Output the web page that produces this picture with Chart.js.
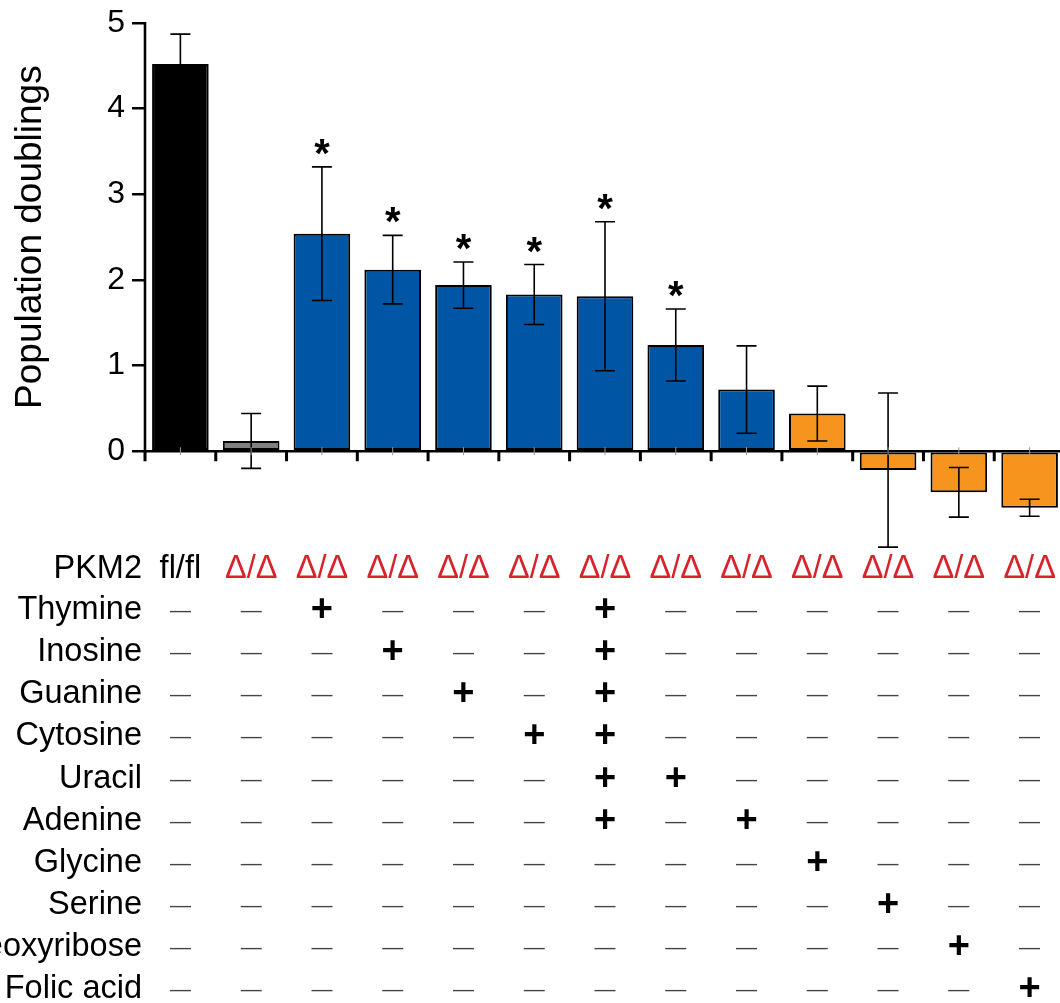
<!DOCTYPE html>
<html>
<head>
<meta charset="utf-8">
<script src="https://cdn.jsdelivr.net/npm/chart.js@4.4.1/dist/chart.umd.min.js"></script>
<style>
  html, body { margin: 0; padding: 0; overflow: hidden; background: #fff; }
  canvas { display: block; }
</style>
</head>
<body>
<canvas id="myChart" width="1070" height="1003"></canvas>
<script>
// genotype of each column (PKM2 row)
const genotypes = ['fl/fl', 'Δ/Δ', 'Δ/Δ', 'Δ/Δ', 'Δ/Δ', 'Δ/Δ', 'Δ/Δ', 'Δ/Δ', 'Δ/Δ', 'Δ/Δ', 'Δ/Δ', 'Δ/Δ', 'Δ/Δ'];
const doublings = [4.52, 0.12, 2.54, 2.12, 1.94, 1.83, 1.81, 1.24, 0.72, 0.44, -0.22, -0.48, -0.66];
const errors = [0.35, 0.32, 0.78, 0.40, 0.27, 0.35, 0.87, 0.42, 0.51, 0.32, 0.90, 0.29, 0.10];
const significant = [false, false, true, true, true, true, true, true, false, false, false, false, false];
const barColors = ['#000000', '#808080', '#0055a5', '#0055a5', '#0055a5', '#0055a5', '#0055a5', '#0055a5', '#0055a5',
                   '#f7941e', '#f7941e', '#f7941e', '#f7941e'];
const supplements = ['Thymine', 'Inosine', 'Guanine', 'Cytosine', 'Uracil', 'Adenine', 'Glycine', 'Serine', 'Deoxyribose', 'Folic acid'];
// columns (0-based) where each supplement is added
const addedIn = [[2, 6], [3, 6], [4, 6], [5, 6], [6, 7], [6, 8], [9], [10], [11], [12]];
const yTicks = [0, 1, 2, 3, 4, 5];

const FONT = '"Liberation Sans", Arial, Helvetica, sans-serif';

const extras = {
    id: 'extras',
    afterDatasetsDraw(chart) {
        const ctx = chart.ctx;
        const x = chart.scales.x, y = chart.scales.y;
        const left = chart.chartArea.left, right = chart.chartArea.right;
        const y0 = y.getPixelForValue(0), yTop = y.getPixelForValue(yTicks[yTicks.length - 1]);
        const step = x.getPixelForValue(1) - x.getPixelForValue(0);

        ctx.save();
        // error bars
        ctx.strokeStyle = '#000';
        ctx.lineWidth = 1.6;
        doublings.forEach((v, i) => {
            const cx = x.getPixelForValue(i);
            const hi = y.getPixelForValue(v + errors[i]);
            const lo = y.getPixelForValue(v - errors[i]);
            ctx.beginPath();
            ctx.moveTo(cx, hi); ctx.lineTo(cx, lo);
            ctx.moveTo(cx - 10, hi); ctx.lineTo(cx + 10, hi);
            ctx.moveTo(cx - 10, lo); ctx.lineTo(cx + 10, lo);
            ctx.stroke();
            if (significant[i]) {
                ctx.fillStyle = '#000';
                ctx.font = 'bold 40px ' + FONT;
                ctx.textAlign = 'center';
                ctx.textBaseline = 'alphabetic';
                ctx.fillText('*', cx, hi);
            }
        });

        // axes
        ctx.lineWidth = 2.6;
        ctx.beginPath();
        ctx.moveTo(left, yTop - 1); ctx.lineTo(left, y0 + 1);
        ctx.moveTo(left, y0); ctx.lineTo(right, y0);
        ctx.stroke();
        ctx.lineWidth = 3;
        ctx.beginPath();
        for (let i = 0; i <= genotypes.length; i++) {
            const tx = left + i * step;
            ctx.moveTo(tx, y0); ctx.lineTo(tx, y0 + 10);
        }
        ctx.stroke();
        ctx.lineWidth = 1;
        ctx.strokeStyle = '#999';
        ctx.beginPath();
        genotypes.forEach((g, i) => {
            const cx = x.getPixelForValue(i);
            ctx.moveTo(cx, y0 - 4); ctx.lineTo(cx, y0 + 4);
        });
        ctx.stroke();

        // y title
        ctx.save();
        ctx.translate(41, (y0 + yTop) / 2);
        ctx.rotate(-Math.PI / 2);
        ctx.fillStyle = '#000';
        ctx.font = '37px ' + FONT;
        ctx.textAlign = 'center';
        ctx.textBaseline = 'alphabetic';
        ctx.fillText('Population doublings', 0, 0);
        ctx.restore();

        // table under the chart
        const rowTop = 566, rowStep = 42.1;
        ctx.textBaseline = 'alphabetic';
        ctx.font = '32.5px ' + FONT;
        ctx.fillStyle = '#000';
        ctx.textAlign = 'right';
        ctx.fillText('PKM2', 142, rowTop + 12);
        ctx.textAlign = 'center';
        genotypes.forEach((g, i) => {
            ctx.fillStyle = g === 'fl/fl' ? '#000' : '#d8232c';
            ctx.fillText(g, x.getPixelForValue(i), rowTop + 12);
        });
        supplements.forEach((s, r) => {
            const ry = rowTop + (r + 1) * rowStep;
            ctx.fillStyle = '#000';
            ctx.font = '32.5px ' + FONT;
            ctx.textAlign = 'right';
            ctx.fillText(s, 142, ry + 11);
            ctx.textAlign = 'center';
            genotypes.forEach((g, i) => {
                const cx = x.getPixelForValue(i);
                if (addedIn[r].includes(i)) {
                    ctx.fillStyle = '#000';
                    ctx.font = 'bold 38px ' + FONT;
                    ctx.fillText('+', cx, ry + 13);
                } else {
                    ctx.fillStyle = '#444';
                    ctx.font = '21px ' + FONT;
                    ctx.fillText('—', cx, ry + 9);
                }
            });
        });
        ctx.restore();
    }
};

new Chart(document.getElementById('myChart').getContext('2d'), {
    type: 'bar',
    data: {
        labels: genotypes,
        datasets: [{
            data: doublings,
            backgroundColor: barColors,
            borderColor: '#000',
            borderWidth: 2,
            borderSkipped: false,
            barPercentage: 0.8,
            categoryPercentage: 1.0
        }]
    },
    options: {
        responsive: false,
        animation: false,
        layout: { padding: { top: 20, right: 5, bottom: 449, left: 0 } },
        plugins: { legend: { display: false }, tooltip: { enabled: false } },
        scales: {
            x: { display: false },
            y: {
                min: -1.2,
                max: 5,
                afterFit: (s) => { s.width = 145; },
                afterBuildTicks: (s) => { s.ticks = yTicks.map(v => ({ value: v })); },
                border: { display: false },
                grid: { drawOnChartArea: false, drawTicks: true, tickLength: 13, color: '#000', lineWidth: 2.5 },
                ticks: { padding: 7, color: '#000', font: { family: FONT, size: 32, lineHeight: 1 } }
            }
        }
    },
    plugins: [extras]
});
</script>
</body>
</html>
